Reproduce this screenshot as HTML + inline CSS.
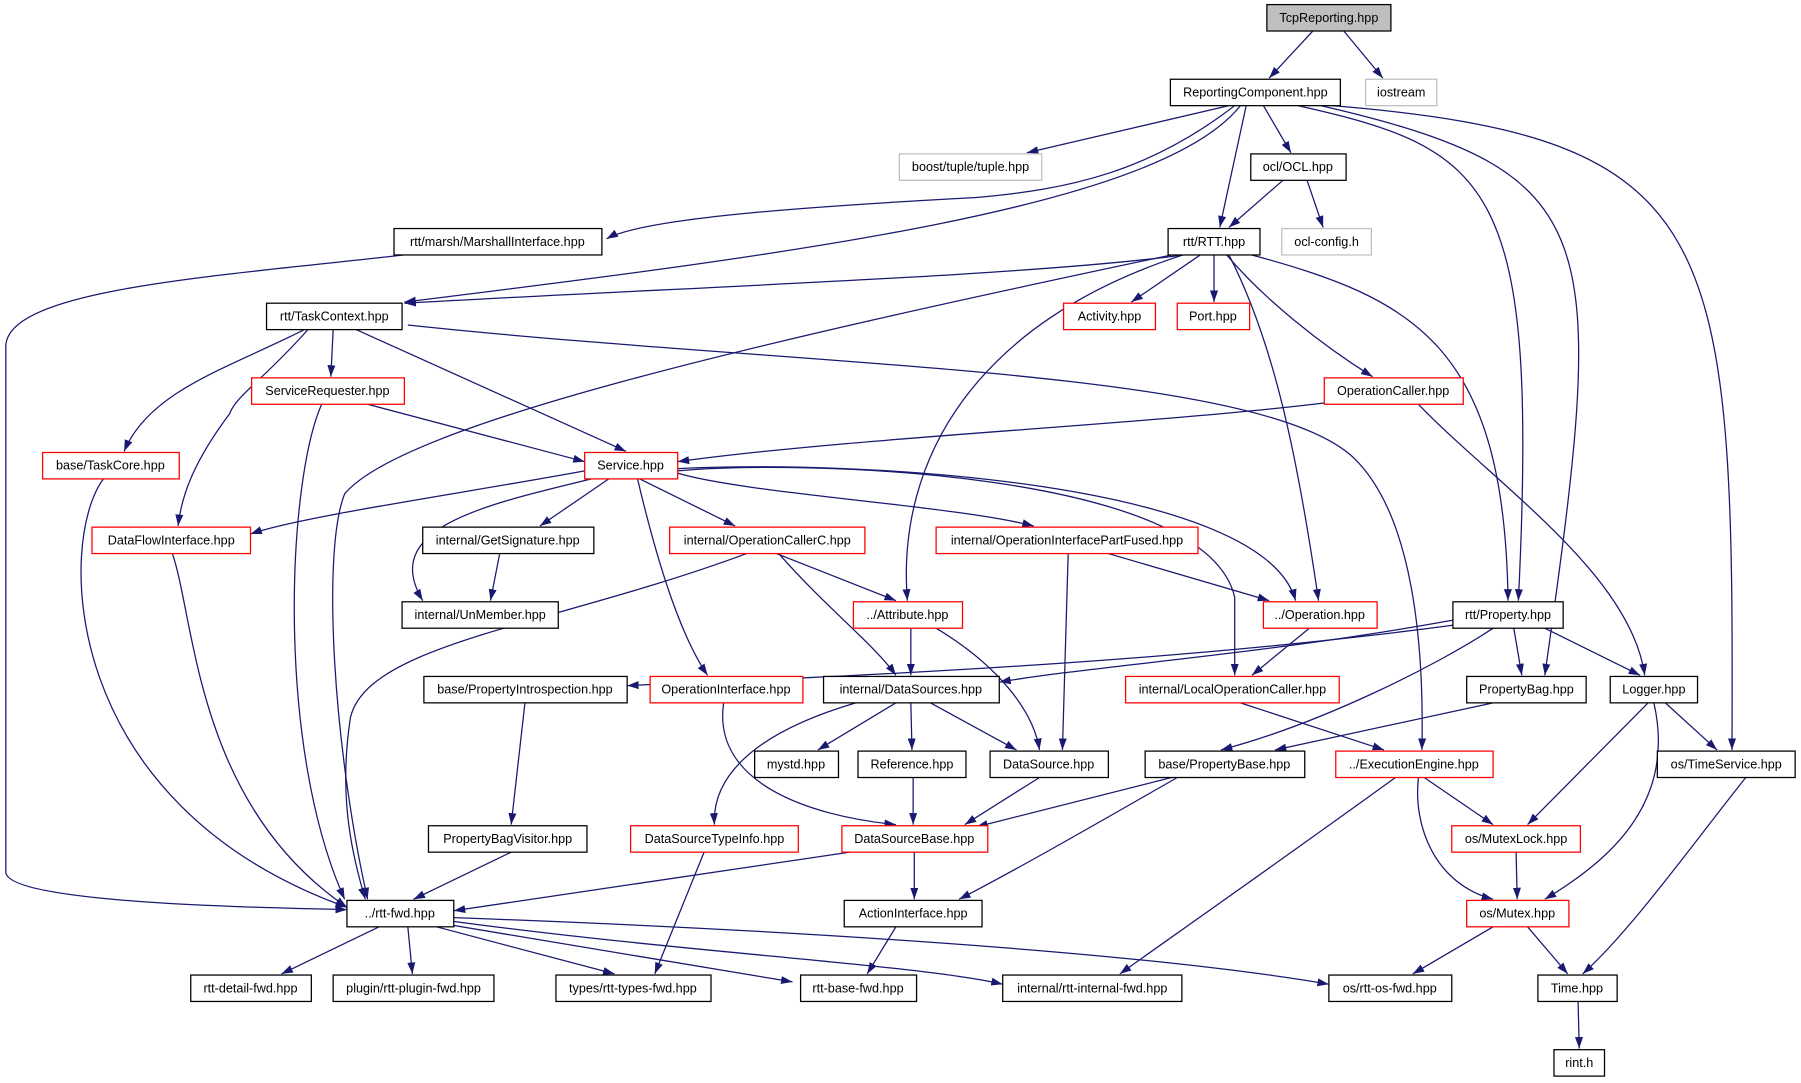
<!DOCTYPE html>
<html><head><meta charset="utf-8"><style>
html,body{margin:0;padding:0;background:#fff}
svg{display:block}
text{font-family:"Liberation Sans",Arial,sans-serif;font-size:11px;text-anchor:middle}
.b{fill:#fff;stroke:#000;stroke-width:1.1}
.r{fill:#fff;stroke:#f00;stroke-width:1.1}
.g{fill:#fff;stroke:#bfbfbf;stroke-width:1.1}
.e{fill:none;stroke:#191970;stroke-width:1.1}
</style></head><body>
<svg width="1801" height="1083" viewBox="0 0 1568 943" xmlns="http://www.w3.org/2000/svg">
<defs><marker id="a" markerUnits="userSpaceOnUse" markerWidth="11" markerHeight="8" refX="10" refY="3.5" orient="auto"><path d="M0,0 L10,3.5 L0,7 z" fill="#191970"/></marker></defs>
<g class="e" marker-end="url(#a)">
<path d="M1143,27 L1105,68"/>
<path d="M1170,27 L1204,68"/>
<path d="M1070,92 L894,133"/>
<path d="M1100,92 L1124,133"/>
<path d="M1085,92 L1062,198"/>
<path d="M1075,92 C1000,150 930,165 850,172 C700,180 560,190 528,208"/>
<path d="M1080,92 C1010,180 700,220 352,263"/>
<path d="M1130,92 C1300,130 1340,160 1322,523"/>
<path d="M1150,92 C1400,150 1400,200 1345,588"/>
<path d="M1160,92 C1500,120 1510,200 1508,653"/>
<path d="M1117,157 L1070,198"/>
<path d="M1138,157 L1152,198"/>
<path d="M1030,222 C900,240 600,250 352,264"/>
<path d="M1045,222 L985,263"/>
<path d="M1057,222 L1057,263"/>
<path d="M1068,222 C1100,260 1150,300 1195,328"/>
<path d="M1090,222 C1230,260 1310,300 1313,523"/>
<path d="M1070,222 C1110,300 1130,400 1148,523"/>
<path d="M1030,222 C850,280 780,400 790,523"/>
<path d="M1020,222 C650,300 350,370 300,430 C280,480 290,650 320,783"/>
<path d="M360,221 C200,240 10,250 5,300 L5,760 C10,785 200,790 302,792"/>
<path d="M290,287 L288,328"/>
<path d="M310,287 L545,393"/>
<path d="M265,287 C200,320 130,340 108,393"/>
<path d="M268,287 C230,330 205,345 200,360 C170,400 158,430 155,458"/>
<path d="M355,283 C700,320 1100,320 1180,400 C1230,450 1240,560 1238,653"/>
<path d="M320,352 L509,402"/>
<path d="M280,352 C250,420 240,650 300,783"/>
<path d="M1160,350 C1000,370 750,380 590,402"/>
<path d="M1235,352 C1300,420 1420,500 1432,588"/>
<path d="M90,417 C50,470 50,700 302,790"/>
<path d="M509,410 C400,430 260,450 218,465"/>
<path d="M530,417 L470,458"/>
<path d="M515,417 C420,440 330,460 368,523"/>
<path d="M557,417 L640,458"/>
<path d="M590,412 C650,430 830,440 900,458"/>
<path d="M555,417 C570,480 590,550 616,588"/>
<path d="M590,410 C700,400 1050,410 1075,520 L1075,588"/>
<path d="M590,408 C750,400 1100,420 1128,523"/>
<path d="M150,482 C170,540 170,700 302,790"/>
<path d="M435,482 L427,523"/>
<path d="M676,482 L780,523"/>
<path d="M678,482 C720,530 760,560 780,588"/>
<path d="M650,482 C480,545 320,560 305,625 C295,690 305,740 318,783"/>
<path d="M930,482 L925,653"/>
<path d="M965,482 L1105,523"/>
<path d="M793,547 L793,588"/>
<path d="M815,547 C870,580 900,620 905,653"/>
<path d="M1140,547 L1090,588"/>
<path d="M1268,544 C1000,580 700,590 546,597"/>
<path d="M1265,540 C1100,570 950,580 870,594"/>
<path d="M1300,547 C1250,580 1150,630 1063,653"/>
<path d="M1318,547 L1325,588"/>
<path d="M1345,547 L1428,588"/>
<path d="M457,612 L445,718"/>
<path d="M630,612 C620,680 700,710 780,718"/>
<path d="M745,612 C650,640 620,680 622,718"/>
<path d="M780,612 L712,653"/>
<path d="M793,612 L794,653"/>
<path d="M810,612 L885,653"/>
<path d="M1080,612 L1205,653"/>
<path d="M1300,612 L1110,653"/>
<path d="M1450,612 L1495,653"/>
<path d="M1435,612 L1330,718"/>
<path d="M1440,612 C1460,700 1400,750 1345,783"/>
<path d="M795,677 L795,718"/>
<path d="M905,677 L840,718"/>
<path d="M1020,677 L850,720"/>
<path d="M1025,677 C950,720 880,760 835,783"/>
<path d="M1240,677 L1300,718"/>
<path d="M1235,677 C1230,720 1250,770 1300,783"/>
<path d="M1215,677 C1100,760 1000,830 975,848"/>
<path d="M1520,677 C1470,740 1420,810 1378,848"/>
<path d="M445,742 L360,783"/>
<path d="M613,742 L570,848"/>
<path d="M740,742 L395,793"/>
<path d="M796,742 L796,783"/>
<path d="M1320,742 L1321,783"/>
<path d="M780,807 L755,848"/>
<path d="M1300,807 L1230,848"/>
<path d="M1330,807 L1365,848"/>
<path d="M1374,872 L1375,913"/>
<path d="M330,807 L245,848"/>
<path d="M355,807 L359,848"/>
<path d="M380,807 L535,848"/>
<path d="M390,805 L690,855"/>
<path d="M393,802 C600,830 800,840 873,857"/>
<path d="M395,799 C700,810 1000,830 1157,857"/>
</g>
<rect x="1103" y="4" width="108" height="23" fill="#bfbfbf" stroke="#000" stroke-width="1.1"/><text x="1157" y="19">TcpReporting.hpp</text>
<rect class="b" x="1019" y="69" width="148" height="23"/><text x="1093" y="84">ReportingComponent.hpp</text>
<rect class="g" x="1189" y="69" width="62" height="23"/><text x="1220" y="84">iostream</text>
<rect class="g" x="783" y="134" width="124" height="23"/><text x="845" y="149">boost/tuple/tuple.hpp</text>
<rect class="b" x="1089" y="134" width="83" height="23"/><text x="1130" y="149">ocl/OCL.hpp</text>
<rect class="b" x="343" y="199" width="181" height="23"/><text x="433" y="214">rtt/marsh/MarshallInterface.hpp</text>
<rect class="b" x="1017" y="199" width="80" height="23"/><text x="1057" y="214">rtt/RTT.hpp</text>
<rect class="g" x="1116" y="199" width="78" height="23"/><text x="1155" y="214">ocl-config.h</text>
<rect class="b" x="232" y="264" width="118" height="23"/><text x="291" y="279">rtt/TaskContext.hpp</text>
<rect class="r" x="926" y="264" width="80" height="23"/><text x="966" y="279">Activity.hpp</text>
<rect class="r" x="1025" y="264" width="63" height="23"/><text x="1056" y="279">Port.hpp</text>
<rect class="r" x="219" y="329" width="133" height="23"/><text x="285" y="344">ServiceRequester.hpp</text>
<rect class="r" x="1153" y="329" width="121" height="23"/><text x="1213" y="344">OperationCaller.hpp</text>
<rect class="r" x="37" y="394" width="119" height="23"/><text x="96" y="409">base/TaskCore.hpp</text>
<rect class="r" x="509" y="394" width="81" height="23"/><text x="549" y="409">Service.hpp</text>
<rect class="r" x="80" y="459" width="138" height="23"/><text x="149" y="474">DataFlowInterface.hpp</text>
<rect class="b" x="368" y="459" width="149" height="23"/><text x="442" y="474">internal/GetSignature.hpp</text>
<rect class="r" x="583" y="459" width="170" height="23"/><text x="668" y="474">internal/OperationCallerC.hpp</text>
<rect class="r" x="815" y="459" width="228" height="23"/><text x="929" y="474">internal/OperationInterfacePartFused.hpp</text>
<rect class="b" x="350" y="524" width="136" height="23"/><text x="418" y="539">internal/UnMember.hpp</text>
<rect class="r" x="743" y="524" width="95" height="23"/><text x="790" y="539">../Attribute.hpp</text>
<rect class="r" x="1100" y="524" width="99" height="23"/><text x="1149" y="539">../Operation.hpp</text>
<rect class="b" x="1265" y="524" width="96" height="23"/><text x="1313" y="539">rtt/Property.hpp</text>
<rect class="b" x="369" y="589" width="177" height="23"/><text x="457" y="604">base/PropertyIntrospection.hpp</text>
<rect class="r" x="566" y="589" width="133" height="23"/><text x="632" y="604">OperationInterface.hpp</text>
<rect class="b" x="717" y="589" width="153" height="23"/><text x="793" y="604">internal/DataSources.hpp</text>
<rect class="r" x="980" y="589" width="186" height="23"/><text x="1073" y="604">internal/LocalOperationCaller.hpp</text>
<rect class="b" x="1277" y="589" width="104" height="23"/><text x="1329" y="604">PropertyBag.hpp</text>
<rect class="b" x="1402" y="589" width="76" height="23"/><text x="1440" y="604">Logger.hpp</text>
<rect class="b" x="657" y="654" width="73" height="23"/><text x="693" y="669">mystd.hpp</text>
<rect class="b" x="747" y="654" width="94" height="23"/><text x="794" y="669">Reference.hpp</text>
<rect class="b" x="862" y="654" width="103" height="23"/><text x="913" y="669">DataSource.hpp</text>
<rect class="b" x="997" y="654" width="139" height="23"/><text x="1066" y="669">base/PropertyBase.hpp</text>
<rect class="r" x="1163" y="654" width="137" height="23"/><text x="1231" y="669">../ExecutionEngine.hpp</text>
<rect class="b" x="1443" y="654" width="120" height="23"/><text x="1503" y="669">os/TimeService.hpp</text>
<rect class="b" x="373" y="719" width="138" height="23"/><text x="442" y="734">PropertyBagVisitor.hpp</text>
<rect class="r" x="549" y="719" width="146" height="23"/><text x="622" y="734">DataSourceTypeInfo.hpp</text>
<rect class="r" x="733" y="719" width="127" height="23"/><text x="796" y="734">DataSourceBase.hpp</text>
<rect class="r" x="1264" y="719" width="112" height="23"/><text x="1320" y="734">os/MutexLock.hpp</text>
<rect class="b" x="302" y="784" width="93" height="23"/><text x="348" y="799">../rtt-fwd.hpp</text>
<rect class="b" x="735" y="784" width="120" height="23"/><text x="795" y="799">ActionInterface.hpp</text>
<rect class="r" x="1277" y="784" width="89" height="23"/><text x="1321" y="799">os/Mutex.hpp</text>
<rect class="b" x="166" y="849" width="105" height="23"/><text x="218" y="864">rtt-detail-fwd.hpp</text>
<rect class="b" x="290" y="849" width="140" height="23"/><text x="360" y="864">plugin/rtt-plugin-fwd.hpp</text>
<rect class="b" x="484" y="849" width="135" height="23"/><text x="551" y="864">types/rtt-types-fwd.hpp</text>
<rect class="b" x="697" y="849" width="101" height="23"/><text x="747" y="864">rtt-base-fwd.hpp</text>
<rect class="b" x="873" y="849" width="156" height="23"/><text x="951" y="864">internal/rtt-internal-fwd.hpp</text>
<rect class="b" x="1157" y="849" width="107" height="23"/><text x="1210" y="864">os/rtt-os-fwd.hpp</text>
<rect class="b" x="1339" y="849" width="69" height="23"/><text x="1373" y="864">Time.hpp</text>
<rect class="b" x="1353" y="914" width="44" height="23"/><text x="1375" y="929">rint.h</text>
</svg>
</body></html>
